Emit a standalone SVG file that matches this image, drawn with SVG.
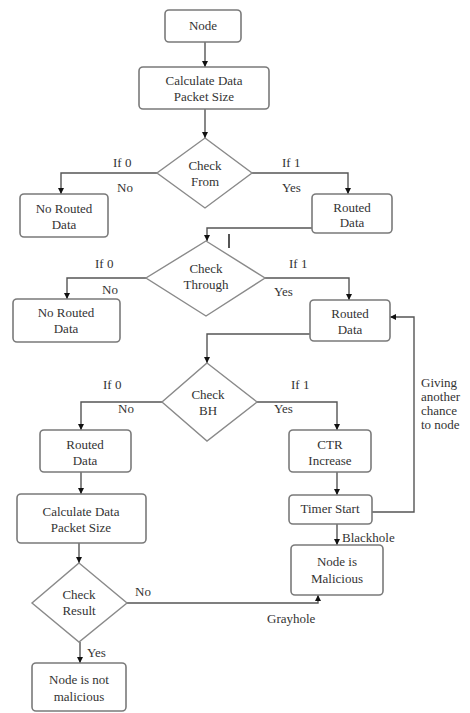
<svg xmlns="http://www.w3.org/2000/svg" width="470" height="713" viewBox="0 0 470 713">
<defs>
<marker id="ah" viewBox="0 0 10 10" refX="10" refY="5" markerWidth="6" markerHeight="6" orient="auto" markerUnits="userSpaceOnUse">
<path d="M0,0 L10,5 L0,10 z" fill="#111"/>
</marker>
</defs>
<rect width="470" height="713" fill="#fff"/>
<g id="connectors" fill="none" stroke="#555" stroke-width="1.4">
<path marker-end="url(#ah)" d="M205,42 V67"/>
<path marker-end="url(#ah)" d="M205,109 V138"/>
<path marker-end="url(#ah)" d="M157,173 H61 V194"/>
<path marker-end="url(#ah)" d="M252,173 H348 V194"/>
<path marker-end="url(#ah)" d="M312,228 H207 V241"/>
<path d="M229,234 V248" stroke-width="2"/>
<path marker-end="url(#ah)" d="M146,278 H67 V299"/>
<path marker-end="url(#ah)" d="M265,278 H349 V300"/>
<path marker-end="url(#ah)" d="M310,334 H207 V363"/>
<path marker-end="url(#ah)" d="M162,402 H81 V430"/>
<path marker-end="url(#ah)" d="M257,402 H337 V430"/>
<path marker-end="url(#ah)" d="M337,472 V495"/>
<path marker-end="url(#ah)" d="M337,524 V545"/>
<path marker-end="url(#ah)" d="M372,512 H414 V317 H390"/>
<path marker-end="url(#ah)" d="M81,472 V494"/>
<path marker-end="url(#ah)" d="M79,543 V563"/>
<path marker-end="url(#ah)" d="M127,603 H318 V595"/>
<path marker-end="url(#ah)" d="M80,642 V663"/>
</g>
<g id="labels" font-family="Liberation Serif" font-size="13" fill="#333">
<text x="113" y="167">If 0</text>
<text x="117" y="192">No</text>
<text x="282" y="167">If 1</text>
<text x="282" y="192">Yes</text>
<text x="95" y="268">If 0</text>
<text x="102" y="294">No</text>
<text x="289" y="268">If 1</text>
<text x="274" y="296">Yes</text>
<text x="103" y="389">If 0</text>
<text x="118" y="413">No</text>
<text x="291" y="389">If 1</text>
<text x="274" y="413">Yes</text>
<text x="421" y="387">Giving</text>
<text x="421" y="401">another</text>
<text x="421" y="415">chance</text>
<text x="421" y="429">to node</text>
<text x="342" y="542">Blackhole</text>
<text x="135" y="596">No</text>
<text x="267" y="623">Grayhole</text>
<text x="87" y="657">Yes</text>
</g>
<g id="nodes" font-family="Liberation Serif" font-size="13" text-anchor="middle">
<g id="node-start">
<rect x="165" y="10" width="76" height="32" rx="4" fill="#fff" stroke="#7a7a7a" stroke-width="1.6"/>
<text fill="#333" x="203" y="30">Node</text>
</g>
<g id="calc1">
<rect x="139" y="67" width="130" height="42" rx="4" fill="#fff" stroke="#7a7a7a" stroke-width="1.6"/>
<text fill="#333" x="204" y="85">Calculate Data</text>
<text fill="#333" x="204" y="101">Packet Size</text>
</g>
<g id="check-from">
<polygon points="205,138 252,173 205,208 157,173" fill="#fff" stroke="#8a8a8a" stroke-width="1.4"/>
<text fill="#333" x="205" y="170">Check</text>
<text fill="#333" x="205" y="186">From</text>
</g>
<g id="no-routed1">
<rect x="20" y="194" width="88" height="43" rx="4" fill="#fff" stroke="#7a7a7a" stroke-width="1.6"/>
<text fill="#333" x="64" y="213">No Routed</text>
<text fill="#333" x="64" y="229">Data</text>
</g>
<g id="routed1">
<rect x="312" y="194" width="80" height="39" rx="4" fill="#fff" stroke="#7a7a7a" stroke-width="1.6"/>
<text fill="#333" x="352" y="212">Routed</text>
<text fill="#333" x="352" y="227">Data</text>
</g>
<g id="check-through">
<polygon points="206,241 265,278 206,316 146,278" fill="#fff" stroke="#8a8a8a" stroke-width="1.4"/>
<text fill="#333" x="206" y="273">Check</text>
<text fill="#333" x="206" y="289">Through</text>
</g>
<g id="no-routed2">
<rect x="13" y="299" width="107" height="43" rx="4" fill="#fff" stroke="#7a7a7a" stroke-width="1.6"/>
<text fill="#333" x="66" y="317">No Routed</text>
<text fill="#333" x="66" y="333">Data</text>
</g>
<g id="routed2">
<rect x="310" y="300" width="80" height="41" rx="4" fill="#fff" stroke="#7a7a7a" stroke-width="1.6"/>
<text fill="#333" x="350" y="318">Routed</text>
<text fill="#333" x="350" y="334">Data</text>
</g>
<g id="check-bh">
<polygon points="207,363 257,402 207,441 162,402" fill="#fff" stroke="#8a8a8a" stroke-width="1.4"/>
<text fill="#333" x="208" y="399">Check</text>
<text fill="#333" x="208" y="415">BH</text>
</g>
<g id="routed3">
<rect x="40" y="430" width="91" height="42" rx="4" fill="#fff" stroke="#7a7a7a" stroke-width="1.6"/>
<text fill="#333" x="85" y="449">Routed</text>
<text fill="#333" x="85" y="465">Data</text>
</g>
<g id="ctr">
<rect x="289" y="430" width="82" height="42" rx="4" fill="#fff" stroke="#7a7a7a" stroke-width="1.6"/>
<text fill="#333" x="330" y="449">CTR</text>
<text fill="#333" x="330" y="465">Increase</text>
</g>
<g id="timer">
<rect x="289" y="495" width="83" height="29" rx="4" fill="#fff" stroke="#7a7a7a" stroke-width="1.6"/>
<text fill="#333" x="330" y="513">Timer Start</text>
</g>
<g id="calc2">
<rect x="17" y="494" width="129" height="49" rx="4" fill="#fff" stroke="#7a7a7a" stroke-width="1.6"/>
<text fill="#333" x="81" y="516">Calculate Data</text>
<text fill="#333" x="81" y="532">Packet Size</text>
</g>
<g id="malicious">
<rect x="291" y="545" width="92" height="50" rx="4" fill="#fff" stroke="#7a7a7a" stroke-width="1.6"/>
<text fill="#333" x="337" y="566">Node is</text>
<text fill="#333" x="337" y="583">Malicious</text>
</g>
<g id="check-result">
<polygon points="79,563 127,603 79,642 32,603" fill="#fff" stroke="#8a8a8a" stroke-width="1.4"/>
<text fill="#333" x="79" y="599">Check</text>
<text fill="#333" x="79" y="615">Result</text>
</g>
<g id="not-malicious">
<rect x="32" y="663" width="94" height="48" rx="4" fill="#fff" stroke="#7a7a7a" stroke-width="1.6"/>
<text fill="#333" x="79" y="684">Node is not</text>
<text fill="#333" x="79" y="701">malicious</text>
</g>
</g>
</svg>
